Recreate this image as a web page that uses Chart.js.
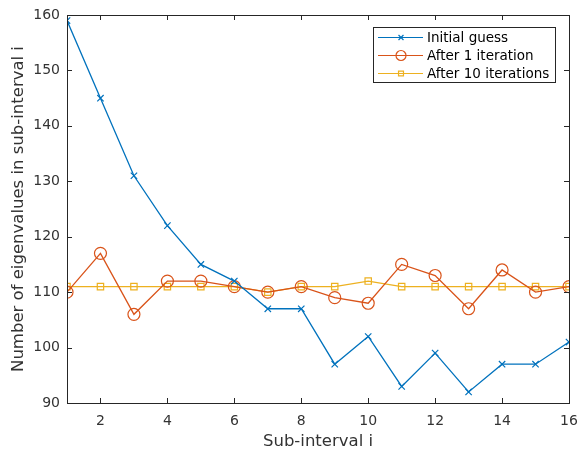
<!DOCTYPE html>
<html>
<head>
<meta charset="utf-8">
<script src="https://cdn.jsdelivr.net/npm/chart.js@4/dist/chart.umd.min.js"></script>
<style>
  html, body { margin: 0; padding: 0; background: #fff; }
  #wrap { width: 578px; height: 450px; }
</style>
</head>
<body>
<div id="wrap"><canvas id="chart" width="578" height="450"></canvas></div>
<script>
const subIntervals = [1, 2, 3, 4, 5, 6, 7, 8, 9, 10, 11, 12, 13, 14, 15, 16];
const initialGuess = [159, 145, 131, 122, 115, 112, 107, 107, 97, 102, 93, 99, 92, 97, 97, 101];
const afterOne = [110, 117, 106, 112, 112, 111, 110, 111, 109, 108, 115, 113, 107, 114, 110, 111];
const afterTen = [111, 111, 111, 111, 111, 111, 110, 111, 111, 112, 111, 111, 111, 111, 111, 111];
const xTicks = [2, 4, 6, 8, 10, 12, 14, 16];
const yTicks = [90, 100, 110, 120, 130, 140, 150, 160];
const seriesLabels = ['Initial guess', 'After 1 iteration', 'After 10 iterations'];
const seriesColors = ['#0072BD', '#D95319', '#EDB120'];
const seriesMarkers = ['crossRot', 'circle', 'rect'];
const markerSizes = [4.5, 6, 4.5];

const FONT = 'DejaVu Sans';
const AXIS = '#262626';
const TEXT = '#333333';

const toPoints = ys => ys.map((y, i) => ({ x: subIntervals[i], y }));

// box round the plot + inward ticks on all four sides
const boxPlugin = {
  id: 'box',
  afterDraw(chart) {
    const { ctx, chartArea: a, scales } = chart;
    ctx.save();
    ctx.strokeStyle = AXIS;
    ctx.lineWidth = 1;
    ctx.beginPath();
    xTicks.forEach(t => {
      const px = Math.round(scales.x.getPixelForValue(t)) + 0.5;
      ctx.moveTo(px, a.bottom); ctx.lineTo(px, a.bottom - 5);
      ctx.moveTo(px, a.top); ctx.lineTo(px, a.top + 5);
    });
    yTicks.forEach(t => {
      const py = Math.round(scales.y.getPixelForValue(t)) + 0.5;
      ctx.moveTo(a.left, py); ctx.lineTo(a.left + 5, py);
      ctx.moveTo(a.right, py); ctx.lineTo(a.right - 5, py);
    });
    ctx.stroke();
    ctx.strokeRect(Math.round(a.left) + 0.5, Math.round(a.top) + 0.5,
      Math.round(a.right - a.left), Math.round(a.bottom - a.top));
    ctx.restore();
  }
};

// MATLAB style legend box with line + marker samples
const legendPlugin = {
  id: 'matLegend',
  afterDraw(chart) {
    const { ctx } = chart;
    const bx = 373, by = 27, bw = 182, bh = 55;
    ctx.save();
    ctx.fillStyle = '#fff';
    ctx.fillRect(bx, by, bw, bh);
    ctx.strokeStyle = AXIS;
    ctx.lineWidth = 1;
    ctx.strokeRect(bx + 0.5, by + 0.5, bw, bh);
    ctx.font = '13.5px ' + FONT;
    ctx.textBaseline = 'middle';
    seriesLabels.forEach((lab, i) => {
      const cy = by + 10.5 + i * 18;
      ctx.strokeStyle = seriesColors[i];
      ctx.lineWidth = 1.2;
      ctx.beginPath();
      ctx.moveTo(bx + 5, cy); ctx.lineTo(bx + 50, cy);
      ctx.stroke();
      ctx.fillStyle = 'rgba(0,0,0,0)';
      Chart.helpers.drawPoint(ctx, {
        pointStyle: seriesMarkers[i], radius: markerSizes[i] - 1, borderWidth: 1.2
      }, bx + 28, cy);
      ctx.fillStyle = '#000';
      ctx.fillText(lab, bx + 54, cy + 1);
    });
    ctx.restore();
  }
};

const datasets = [initialGuess, afterOne, afterTen].map((ys, i) => ({
  label: seriesLabels[i],
  data: toPoints(ys),
  borderColor: seriesColors[i],
  backgroundColor: 'rgba(0,0,0,0)',
  borderWidth: 1.3,
  pointStyle: seriesMarkers[i],
  pointRadius: markerSizes[i],
  pointBorderColor: seriesColors[i],
  pointBackgroundColor: 'rgba(0,0,0,0)',
  pointBorderWidth: 1.2,
  tension: 0
}));

new Chart(document.getElementById('chart'), {
  type: 'line',
  data: { datasets },
  options: {
    responsive: false,
    animation: false,
    layout: { padding: { top: 15, right: 9, left: 5, bottom: 0 } },
    plugins: { legend: { display: false }, tooltip: { enabled: false } },
    scales: {
      x: {
        type: 'linear', min: 1, max: 16,
        afterBuildTicks: s => { s.ticks = xTicks.map(v => ({ value: v })); },
        afterFit: s => { s.height = 47; s.paddingLeft = 0; s.paddingRight = 0; },
        grid: { display: false, drawTicks: false },
        border: { display: false },
        ticks: { color: TEXT, font: { family: FONT, size: 14 }, padding: 10, maxRotation: 0 },
        title: { display: true, text: 'Sub-interval i', color: TEXT, font: { family: FONT, size: 16.5 }, padding: { top: 5, bottom: -2 } }
      },
      y: {
        min: 90, max: 160,
        afterBuildTicks: s => { s.ticks = yTicks.map(v => ({ value: v })); },
        afterFit: s => { s.width = 62; s.paddingTop = 0; s.paddingBottom = 0; },
        grid: { display: false, drawTicks: false },
        border: { display: false },
        ticks: { color: TEXT, font: { family: FONT, size: 14 }, padding: 7 },
        title: { display: true, text: 'Number of eigenvalues in sub-interval i', color: TEXT, font: { family: FONT, size: 16.5 }, padding: { bottom: 4 } }
      }
    }
  },
  plugins: [boxPlugin, legendPlugin]
});
</script>
</body>
</html>
